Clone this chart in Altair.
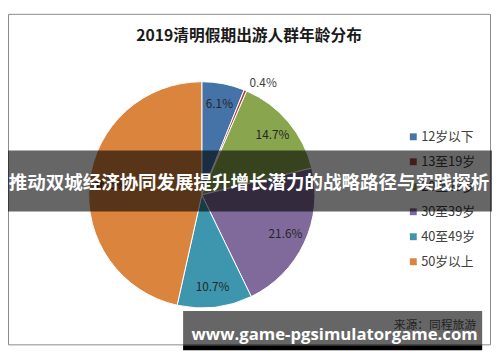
import altair as alt
import pandas as pd

# ---- data ----
title_text = "2019清明假期出游人群年龄分布"
categories = ["12岁以下", "13至19岁", "20至29岁", "30至39岁", "40至49岁", "50岁以上"]
shares = [6.1, 0.4, 14.7, 21.6, 10.7, 46.5]
share_labels = ["6.1%", "0.4%", "14.7%", "21.6%", "10.7%", "46.5%"]
slice_colors = ["#4572A7", "#AA4643", "#89A54E", "#80699B", "#3D96AE", "#DB843D"]
source_note = "来源：同程旅游"
banner_text = "推动双城经济协同发展提升增长潜力的战略路径与实践探析"
watermark_text = "www.game-pgsimulatorgame.com"

df = pd.DataFrame({
    "age": categories,
    "share": shares,
    "label": share_labels,
    "idx": list(range(len(categories))),
})

CJK = "Noto Sans CJK SC"
W, H = 490, 336
CX, CY, R = 197, 184, 115

color = alt.Color("age:N", scale=alt.Scale(domain=categories, range=slice_colors), legend=None)
theta = alt.Theta("share:Q", stack=True)
order = alt.Order("idx:Q", sort="ascending")

base = alt.Chart(df).encode(theta=theta, order=order, color=color,
                            x=alt.value(CX), y=alt.value(CY))
pie = base.mark_arc(outerRadius=R, stroke="white", strokeWidth=1)

inner_labels = base.mark_text(radius=94, font=CJK, fontSize=12).encode(
    text=alt.condition("datum.share >= 1", "label:N", alt.value("")),
    color=alt.value("#262626"),
)
outer_labels = base.mark_text(radius=128, dx=13, dy=4, font=CJK, fontSize=12).encode(
    text=alt.condition("datum.share < 1", "label:N", alt.value("")),
    color=alt.value("#404040"),
)

ypos = alt.Y("age:N", sort=categories, axis=None,
             scale=alt.Scale(domain=categories, range=[125, 252], padding=0))
leg_sym = alt.Chart(df).mark_square(size=49, opacity=1).encode(
    y=ypos, x=alt.value(412), color=color)
leg_txt = alt.Chart(df).mark_text(align="left", baseline="middle", font=CJK,
                                  fontSize=13, color="#404040").encode(
    y=ypos, x=alt.value(420), text="age:N")

src = alt.Chart(pd.DataFrame({"t": [source_note]})).mark_text(
    align="left", baseline="middle", font=CJK, fontSize=12, color="#595959").encode(
    x=alt.value(392), y=alt.value(316), text="t:N")

band = alt.Chart(pd.DataFrame({"t": [banner_text]})).mark_rect(color="black", opacity=0.6).encode(
    x=alt.value(-8), x2=alt.value(492), y=alt.value(139), y2=alt.value(201))
band_txt = alt.Chart(pd.DataFrame({"t": [banner_text]})).mark_text(
    align="center", baseline="middle", font=CJK, fontSize=18.8, fontWeight="bold",
    color="white").encode(x=alt.value(245), y=alt.value(172), text="t:N")

wm_band = alt.Chart(pd.DataFrame({"t": [watermark_text]})).mark_rect(color="black", opacity=0.6).encode(
    x=alt.value(178), x2=alt.value(482), y=alt.value(302), y2=alt.value(337))
wm_bar = alt.Chart(pd.DataFrame({"t": [watermark_text]})).mark_rect(color="black", opacity=1).encode(
    x=alt.value(178), x2=alt.value(482), y=alt.value(337), y2=alt.value(342))
wm_txt = alt.Chart(pd.DataFrame({"t": [watermark_text]})).mark_text(
    align="center", baseline="alphabetic", font="Open Sans", fontSize=17, fontWeight="bold",
    color="white").encode(x=alt.value(332), y=alt.value(332), text="t:N")

chart = alt.layer(
    pie, inner_labels, outer_labels, leg_sym, leg_txt, src,
    band, band_txt, wm_band, wm_bar, wm_txt,
).properties(
    width=W, height=H,
    title=alt.TitleParams(title_text, anchor="middle", frame="group", font=CJK,
                          fontSize=16, fontWeight="bold", color="#1a1a1a",
                          offset=0, baseline="middle", dy=39),
    autosize=alt.AutoSizeParams(type="none"),
    padding={"left": 0, "top": 3, "right": 2, "bottom": 15},
    background="white",
).configure_view(stroke="#898989", strokeWidth=1)

chart.save("out.html", embed_options={"renderer": "svg", "actions": False})
